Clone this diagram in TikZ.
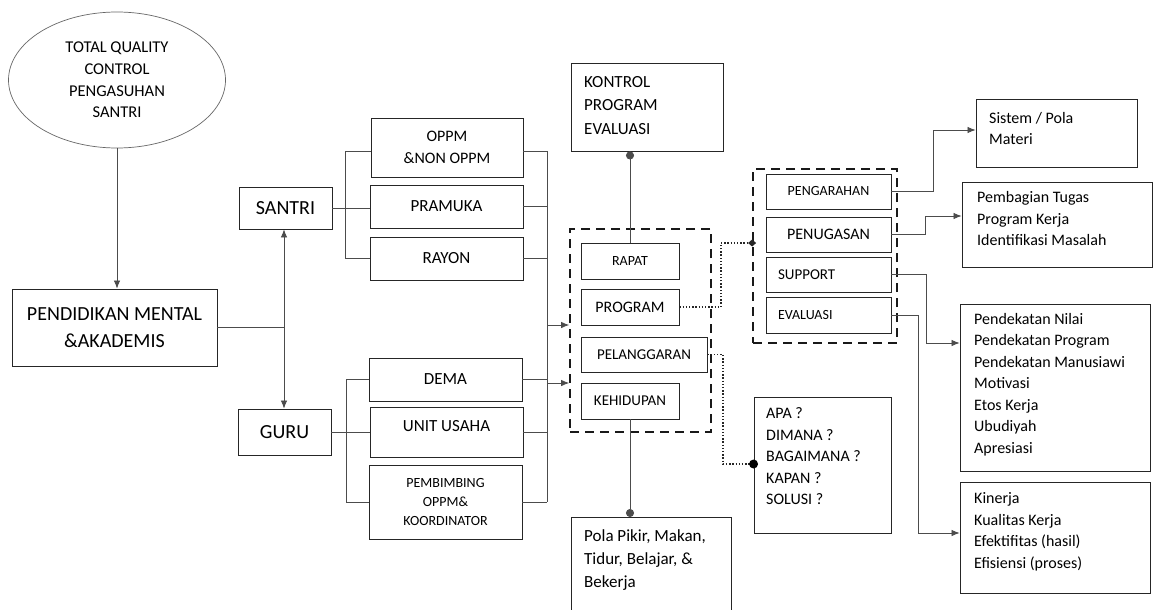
\documentclass[tikz,border=0pt]{standalone}
\usepackage{fontspec}
\setmainfont{Carlito}
\usetikzlibrary{arrows.meta,shapes.geometric,calc}
\begin{document}
\begin{tikzpicture}[x=1pt,y=-1pt,
  bx/.style={draw=black!85, line width=0.9pt, inner sep=0pt, align=center},
  ln/.style={draw=black!70, line width=0.8pt},
  arr/.style={ln, -{Latex[length=8pt,width=6.5pt]}},
  dotc/.style={ln, -{Circle[length=8pt]}},
  dotl/.style={draw=black!85, line width=1.4pt, dash pattern=on 1.4pt off 1.8pt},
  dbox/.style={draw=black!90, line width=1.8pt, dash pattern=on 9pt off 6pt, inner sep=0pt},
  txt/.style={inner sep=0pt, align=left, anchor=west},
  f14/.style={font=\fontsize{14}{19}\selectfont},
  f15/.style={font=\fontsize{15}{21.5}\selectfont},
  f16/.style={font=\fontsize{16}{21.5}\selectfont},
  f17/.style={font=\fontsize{17}{22}\selectfont},
  f20/.style={font=\fontsize{20}{27}\selectfont}]
\clip (0,0) rectangle (1154,610);
\fill[white] (0,0) rectangle (1154,610);

% left column
\node[bx, draw=black!60, line width=0.7pt, ellipse, font=\fontsize{16.5}{21.7}\selectfont, minimum width=217, minimum height=136] (tqc) at (117,80)
  {TOTAL QUALITY\\CONTROL\\PENGASUHAN\\SANTRI};
\node[bx, f20, minimum width=205, minimum height=77] (pend) at (114.5,327.5)
  {PENDIDIKAN MENTAL\\\&AKADEMIS};
\node[bx, f20, minimum width=93, minimum height=42] (santri) at (285.5,208) {SANTRI};
\node[bx, f20, minimum width=93, minimum height=46] (guru) at (284.5,432) {GURU};

% middle-left boxes
\node[bx, f16, minimum width=152, minimum height=59] (oppm) at (447,147.5) {OPPM\\\&NON OPPM};
\node[bx, f17, minimum width=153, minimum height=43] (pramuka) at (446.5,206.5) {PRAMUKA};
\node[bx, f17, minimum width=153, minimum height=43] (rayon) at (446.5,258.5) {RAYON};
\node[bx, f17, minimum width=153, minimum height=43] (dema) at (445.5,379.5) {DEMA};
\node[bx, minimum width=153, minimum height=50] (unit) at (446.5,432) {};
\node[f17, inner sep=0pt] (unittxt) at (446.5,426) {UNIT USAHA};
\node[bx, f14, minimum width=153, minimum height=74] (pemb) at (445.5,502)
  {PEMBIMBING\\OPPM\&\\KOORDINATOR};

% centre column
\node[bx, minimum width=152, minimum height=88] (kontrol) at (647,107) {};
\node[txt, font=\fontsize{17}{23.5}\selectfont] (kontroltxt) at (584,105.5) {KONTROL\\PROGRAM\\EVALUASI};
\node[dbox, minimum width=141, minimum height=203] (dbox1) at (640.5,330.5) {};
\node[bx, f14, minimum width=98, minimum height=36] (rapat) at (630,261) {RAPAT};
\node[bx, f16, minimum width=98, minimum height=36] (program) at (630,307) {PROGRAM};
\node[bx, f15, minimum width=126, minimum height=35] (pelang) at (644,354.5) {PELANGGARAN};
\node[bx, f15, minimum width=98, minimum height=36] (kehid) at (630,401) {KEHIDUPAN};
\node[bx, minimum width=160, minimum height=130, anchor=north] (pola) at (651,517) {};
\node[txt, font=\fontsize{17}{23}\selectfont] (polatxt) at (584,560) {Pola Pikir, Makan,\\Tidur, Belajar, \&\\Bekerja};

% APA box
\node[bx, minimum width=137, minimum height=136] (apa) at (822.5,465) {};
\node[txt, f16] (apatxt) at (766,456.5) {APA ?\\DIMANA ?\\BAGAIMANA ?\\KAPAN ?\\SOLUSI ?};

% right dashed group
\node[dbox, minimum width=144, minimum height=174] (dbox2) at (825,256) {};
\node[bx, f14, minimum width=125, minimum height=35] (pengarahan) at (828.5,191.5) {PENGARAHAN};
\node[bx, f16, minimum width=125, minimum height=35] (penugasan) at (828.5,234.5) {PENUGASAN};
\node[bx, f15, minimum width=125, minimum height=35, align=left, text width=101, inner xsep=12pt] (support) at (828.5,274.5) {SUPPORT};
\node[bx, f14, minimum width=125, minimum height=36, align=left, text width=101, inner xsep=12pt] (evaluasi) at (828.5,315) {EVALUASI};

% far right boxes
\node[bx, minimum width=161, minimum height=68] (sistem) at (1056.5,133) {};
\node[txt, f16] (sistemtxt) at (989,128.5) {Sistem / Pola\\Materi};
\node[bx, minimum width=190, minimum height=85] (pembagian) at (1057,224.5) {};
\node[txt, f16] (pembagiantxt) at (977,219) {Pembagian Tugas\\Program Kerja\\Identifikasi Masalah};
\node[bx, minimum width=190, minimum height=167] (pendekatan) at (1055,387.5) {};
\node[txt, f16] (pendekatantxt) at (974,384.5) {Pendekatan Nilai\\Pendekatan Program\\Pendekatan Manusiawi\\Motivasi\\Etos Kerja\\Ubudiyah\\Apresiasi};
\node[bx, minimum width=190, minimum height=111] (kinerja) at (1055,537.5) {};
\node[txt, f16] (kinerjatxt) at (974,532) {Kinerja\\Kualitas Kerja\\Efektifitas (hasil)\\Efisiensi (proses)};

% coordinates
\coordinate (jn) at (284,327.5);
\coordinate (sb1) at (345,151);
\coordinate (sb3) at (345,258.5);
\coordinate (gb1) at (346,379.5);
\coordinate (gb3) at (346,502);
\coordinate (rb1) at (547,151);
\coordinate (rb2) at (547,502);
\coordinate (a1) at (547,325);
\coordinate (a2) at (547,383);
\coordinate (d1) at (721,243);
\coordinate (d2) at (723,464);
\coordinate (e1) at (933,130);
\coordinate (e2) at (925,216);
\coordinate (e3) at (926,343);
\coordinate (e4) at (918,533);

% connectors left
\draw[arr] (tqc.south) -- (tqc.south |- pend.north);
\draw[ln] (pend.east) -- (jn);
\draw[arr] (jn) -- (jn |- santri.south);
\draw[arr] (jn) -- (jn |- guru.north);

\draw[ln] (santri.east) -- (santri.east -| pramuka.west);
\draw[ln] (sb1) -- (sb3);
\draw[ln] (sb1) -- (sb1 -| oppm.west);
\draw[ln] (sb3) -- (rayon.west);

\draw[ln] (guru.east) -- (guru.east -| unit.west);
\draw[ln] (gb1) -- (gb3);
\draw[ln] (gb1) -- (dema.west);
\draw[ln] (gb3) -- (pemb.west);

\draw[ln] (rb1 -| oppm.east) -- (rb1);
\draw[ln] (pramuka.east) -- (pramuka.east -| rb1);
\draw[ln] (rayon.east) -- (rayon.east -| rb1);
\draw[ln] (dema.east) -- (dema.east -| rb1);
\draw[ln] (unit.east) -- (unit.east -| rb1);
\draw[ln] (pemb.east) -- (rb2);
\draw[ln] (rb1) -- (rb2);
\draw[arr] (a1) -- (a1 -| dbox1.west);
\draw[arr] (a2) -- (a2 -| dbox1.west);

% centre connectors
\draw[dotc] (rapat.north) -- (rapat.north |- kontrol.south);
\draw[dotc] (kehid.south) -- (kehid.south |- pola.north);
\draw[dotl] (program.east) -| (d1) -- (d1 -| dbox2.west);
\fill[black!85] ($(d1 -| dbox2.west)$) +(-4,0) -- +(0,-3.5) -- +(4,0) -- +(0,3.5) -- cycle;
\draw[dotl] (pelang.east) -| (d2) -- (d2 -| apa.west);
\fill[black] (d2 -| apa.west) circle (4.5);

% right connectors
\draw[arr] (pengarahan.east) -| (e1) -- (e1 -| sistem.west);
\draw[arr] (penugasan.east) -| (e2) -- (e2 -| pembagian.west);
\draw[arr] (support.east) -| (e3) -- (e3 -| pendekatan.west);
\draw[arr] (evaluasi.east) -| (e4) -- (e4 -| kinerja.west);
\end{tikzpicture}
\end{document}
